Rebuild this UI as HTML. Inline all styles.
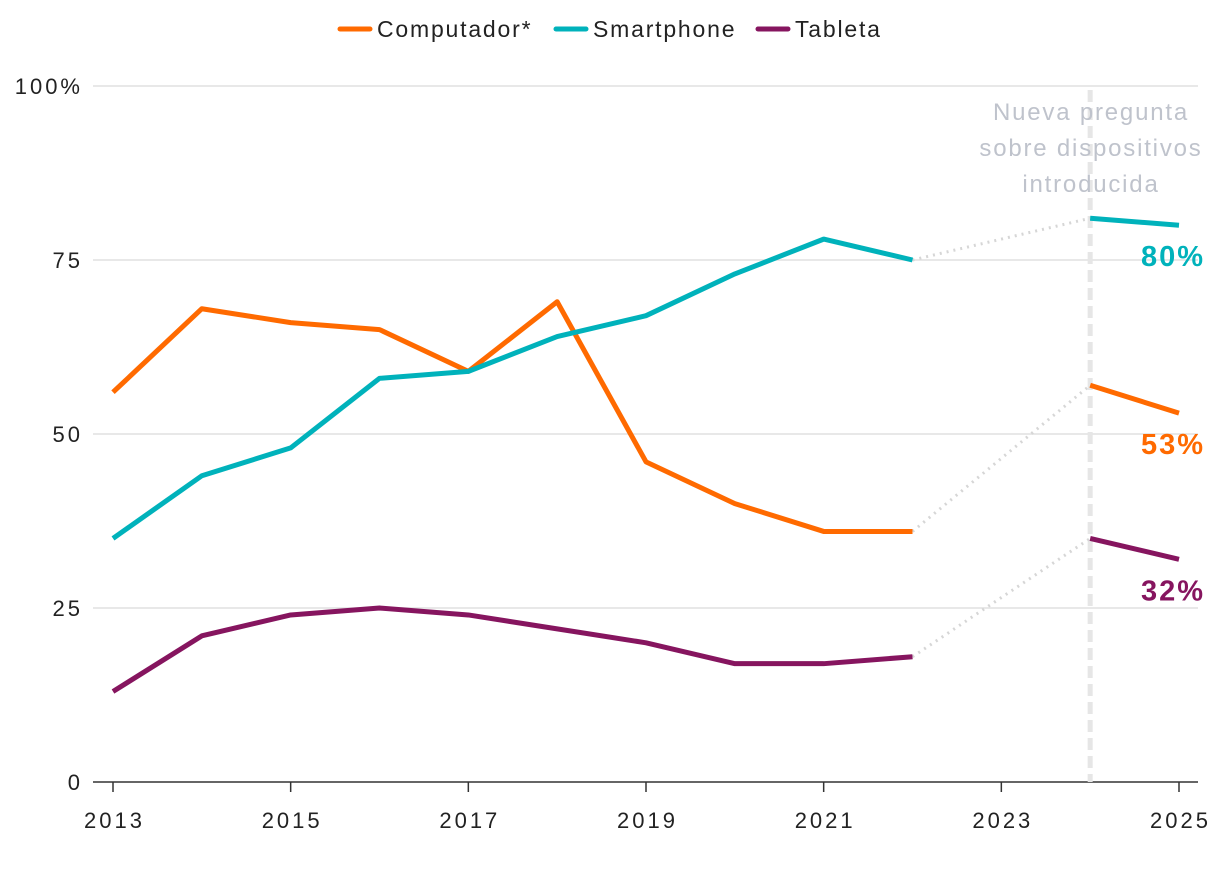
<!DOCTYPE html>
<html><head><meta charset="utf-8"><style>
body{margin:0;background:#fff;}
svg text{font-family:"Liberation Sans",sans-serif;}
</style></head><body>
<svg id="chart" width="1220" height="888" xmlns="http://www.w3.org/2000/svg"></svg>
<script>
const years=[2013,2014,2015,2016,2017,2018,2019,2020,2021,2022];
const newYears=[2024,2025];
const computador=[56,68,66,65,59,69,46,40,36,36];
const computadorNew=[57,53];
const smartphone=[35,44,48,58,59,64,67,73,78,75];
const smartphoneNew=[81,80];
const tableta=[13,21,24,25,24,22,20,17,17,18];
const tabletaNew=[35,32];
const yTicks=[0,25,50,75,100];
const yTickLabels=["0","25","50","75","100%"];
const xTicks=[2013,2015,2017,2019,2021,2023,2025];
const seriesNames=["Computador*","Smartphone","Tableta"];

const NS="http://www.w3.org/2000/svg";
const svg=document.getElementById('chart');
const x=v=>113+(v-2013)*(1179-113)/12;
const y=v=>782-v*6.96;
function el(tag,attrs,parent){const e=document.createElementNS(NS,tag);for(const k in attrs)e.setAttribute(k,attrs[k]);(parent||svg).appendChild(e);return e;}

yTicks.forEach((t,i)=>{
  if(t>0){const g=el('line',{x1:93,x2:1198,y1:y(t),y2:y(t),stroke:'#e0e0e0','stroke-width':1.5});
  
  }
  const tx=el('text',{x:83,y:y(t)+8,'text-anchor':'end','font-size':22,fill:'#222','letter-spacing':3});
  tx.textContent=yTickLabels[i];
  
  
});
const ax=el('line',{x1:93,x2:1198,y1:782,y2:782,stroke:'#333','stroke-width':1.5});


xTicks.forEach(t=>{
  const tk=el('line',{x1:x(t),x2:x(t),y1:782,y2:792,stroke:'#333','stroke-width':1.5});
  
  
  const tx=el('text',{x:x(t)+1.5,y:828,'text-anchor':'middle','font-size':22,fill:'#222','letter-spacing':3});
  tx.textContent=t;
  
  
});
const vl=el('line',{x1:x(2024),x2:x(2024),y1:90,y2:782,stroke:'#e6e6e6','stroke-width':5,'stroke-dasharray':'12,6'});


['Nueva pregunta','sobre dispositivos','introducida'].forEach((s,i)=>{
  const t=el('text',{x:1091,y:120+i*36,'text-anchor':'middle','font-size':24,fill:'#bfc3cc','letter-spacing':1.8});
  t.textContent=s;
  
  
});

const defs=[[computador,computadorNew,'#ff6a00','computador'],[smartphone,smartphoneNew,'#00b2bb','smartphone'],[tableta,tabletaNew,'#86155f','tableta']];
defs.forEach(([a,b,c,n])=>{
  const d=el('line',{x1:x(years[years.length-1]),y1:y(a[a.length-1]),x2:x(newYears[0]),y2:y(b[0]),stroke:'#d6d6d6','stroke-width':3,'stroke-dasharray':'2,5'});
  
  
  const p=el('polyline',{points:years.map((yr,i)=>x(yr)+','+y(a[i])).join(' '),fill:'none',stroke:c,'stroke-width':5,'stroke-linejoin':'round'});
  
  
  const p2=el('polyline',{points:newYears.map((yr,i)=>x(yr)+','+y(b[i])).join(' '),fill:'none',stroke:c,'stroke-width':5});
  
  
  const l=el('text',{x:1205,y:y(b[1])+41,'text-anchor':'end','font-size':29,'font-weight':'bold',fill:c,'letter-spacing':2});
  l.textContent=b[1]+'%';
  
  
});

const legX=[340,556,758];
seriesNames.forEach((s,i)=>{
  const g=el('g',{});
  
  
  el('line',{x1:legX[i],x2:legX[i]+30,y1:29,y2:29,stroke:defs[i][2],'stroke-width':5,'stroke-linecap':'round'},g);
  const t=el('text',{x:legX[i]+37,y:37,'font-size':23,fill:'#222','letter-spacing':1.8},g);
  t.textContent=s;
});
</script>
</body></html>
